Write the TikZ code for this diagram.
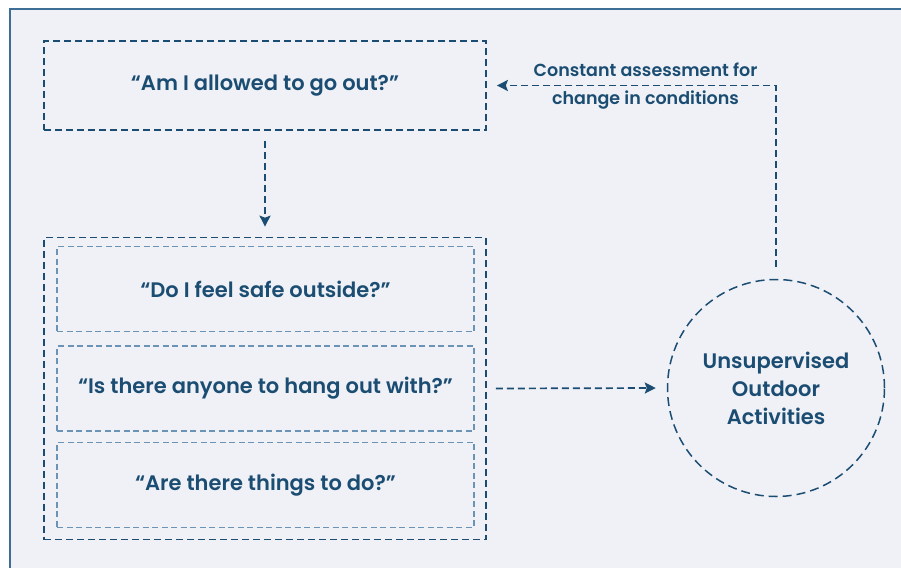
\documentclass[tikz,border=0pt]{standalone}
\usepackage{fontspec}
\setmainfont{Poppins}[BoldFont={Poppins SemiBold}]
\usepackage{xcolor}
\usetikzlibrary{arrows.meta,positioning}

\definecolor{navy}{HTML}{1B4D73}
\definecolor{lightnavy}{HTML}{6A93B5}
\definecolor{panel}{HTML}{F0F1F6}
\definecolor{frame}{HTML}{3E6E96}

\tikzset{
    bigdash/.style={draw=navy, line width=1.7pt, dash pattern=on 7pt off 4pt},
    smalldash/.style={draw=lightnavy, line width=1.2pt, dash pattern=on 6pt off 3.5pt},
    flow/.style={navy, line width=1.7pt, dash pattern=on 7pt off 4pt, -{Stealth[length=11pt, width=11pt, inset=2pt]}},
    ask/.style={font=\bfseries\fontsize{21}{28}\selectfont, text=navy}
}

\begin{document}
\begin{tikzpicture}[x=1pt, y=-1pt, node distance=10pt]
    \useasboundingbox (0,0) rectangle (901,567);
    % panel
    \fill[panel] (10,9) rectangle (905,570);
    \draw[frame, line width=1.2pt] (10,570) -- (10,9) -- (905,9);

    \node (allowed) [bigdash, ask, minimum width=442pt, minimum height=89pt] at (265,85.5) {“Am I allowed to go out?”};
    \node (group) [bigdash, minimum width=442pt, minimum height=302pt] at (265,388.5) {};

    \node (hangout) [smalldash, ask, minimum width=417pt, minimum height=85pt] at (265.5,388.5) {“Is there anyone to hang out with?”};
    \node (safe) [smalldash, ask, minimum width=417pt, minimum height=85pt, above=13pt of hangout] {“Do I feel safe outside?”};
    \node (things) [smalldash, ask, minimum width=417pt, minimum height=85pt, below=10pt of hangout] {“Are there things to do?”};

    \node (outdoor) [draw=navy, line width=1.5pt, dash pattern=on 9pt off 5pt, circle, minimum size=217pt, align=center, ask] at (776,388) {Unsupervised\\Outdoor\\Activities};

    \draw[flow] ([yshift=-10pt]allowed.south) -- ([yshift=10pt]group.north);
    \draw[flow] ([xshift=9pt]group.east) -- ([xshift=-11pt]outdoor.west);
    \draw[flow] ([yshift=12pt]outdoor.north) |- ([xshift=10pt]allowed.east);

    \node (assess) [align=center, text=navy, font=\bfseries\fontsize{17.5}{28}\selectfont] at (645.5,86) {Constant assessment for\\change in conditions};
\end{tikzpicture}
\end{document}
